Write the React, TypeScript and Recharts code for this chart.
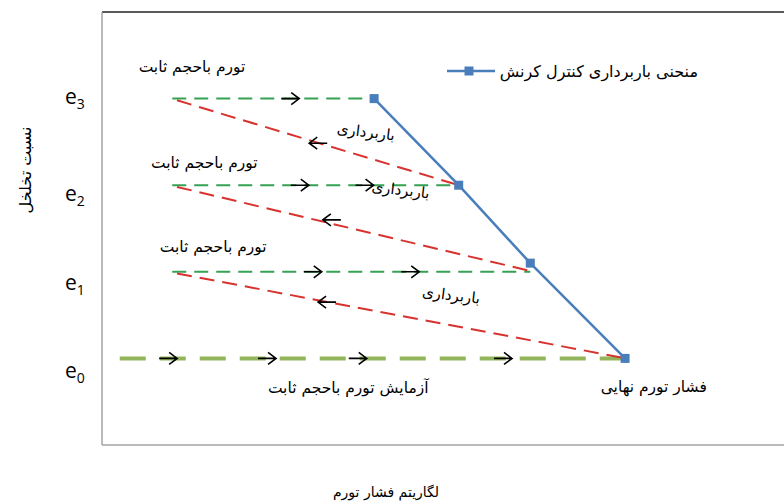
import React from 'react';
import { ComposedChart, Line, Scatter, XAxis, YAxis, ReferenceLine, Legend } from 'recharts';

// ---- data (x: log of swelling pressure, arbitrary units; y: void ratio, arbitrary units) ----
const voidRatioLevels = [20, 40, 60, 80];
const voidRatioNames = ['e0', 'e1', 'e2', 'e3'];

const curveName = 'منحنی باربرداری کنترل کرنش';
const controlCurve = [
  { x: 39.9, y: 80 },
  { x: 52.3, y: 60 },
  { x: 62.8, y: 42 },
  { x: 76.7, y: 20 },
];

const swell3 = [{ x: 10.3, y: 80 }, { x: 39.9, y: 80 }];
const swell2 = [{ x: 10.3, y: 60 }, { x: 52.3, y: 60 }];
const swell1 = [{ x: 10.3, y: 40 }, { x: 62.8, y: 40 }];
const swell0 = [{ x: 2.6, y: 20 }, { x: 76.7, y: 20 }];

const unload3 = [{ x: 11.0, y: 79.6 }, { x: 52.3, y: 60 }];
const unload2 = [{ x: 11.0, y: 59.6 }, { x: 62.8, y: 40.2 }];
const unload1 = [{ x: 11.0, y: 39.6 }, { x: 76.2, y: 20.2 }];

const forwardArrows = [
  { x: 27.6, y: 80 },
  { x: 29.0, y: 60 },
  { x: 38.5, y: 60 },
  { x: 30.9, y: 40 },
  { x: 45.2, y: 40 },
  { x: 9.7, y: 20 },
  { x: 24.2, y: 20 },
  { x: 37.5, y: 20 },
  { x: 58.8, y: 20 },
];
const backArrows = [
  { x: 31.7, y: 69.7 },
  { x: 33.7, y: 52.0 },
  { x: 33.0, y: 33.0 },
];

const swellLabels = [
  { x: 13.2, y: 87.3, text: 'تورم باحجم ثابت' },
  { x: 15.0, y: 65.1, text: 'تورم باحجم ثابت' },
  { x: 16.3, y: 45.7, text: 'تورم باحجم ثابت' },
  { x: 36.1, y: 13.2, text: 'آزمایش تورم باحجم ثابت' },
  { x: 80.9, y: 13.4, text: 'فشار تورم نهایی' },
];
const unloadLabels = [
  { x: 38.7, y: 72.3, text: 'باربرداری' },
  { x: 43.8, y: 58.9, text: 'باربرداری' },
  { x: 51.2, y: 34.6, text: 'باربرداری' },
];

const xTitle = 'لگاریتم فشار تورم';
const yTitle = 'نسبت تخلخل';

// ---- styles ----
const FONT = '"DejaVu Sans", sans-serif';
const LATIN = '"Open Sans", "DejaVu Sans", sans-serif';
const BLUE = '#4A7EBB';
const GREEN = '#35a152';
const OLIVE = '#93b55a';
const RED = '#d8322e';
const tickDy: Record<number, number> = { 20: 14, 40: 12, 60: 10, 80: -1 };

const ETick = (props: any) => {
  const { y, payload } = props;
  const idx = voidRatioLevels.indexOf(payload.value);
  const name = voidRatioNames[idx] || '';
  return (
    <text x={65} y={y + (tickDy[payload.value] || 0) + 6} fontSize={21} fontFamily={LATIN} fill="#000">
      {name.charAt(0)}
      <tspan fontSize={14} dy={5}>{name.slice(1)}</tspan>
    </text>
  );
};

const arrowShape = (dir: number) => (props: any) => {
  const { cx, cy } = props;
  const tip = cx + dir * 9;
  const tail = cx - dir * 9;
  return (
    <path
      d={`M${tail},${cy} L${tip},${cy} M${tip - dir * 8},${cy - 6} L${tip},${cy} L${tip - dir * 8},${cy + 6}`}
      stroke="#000"
      strokeWidth={1.6}
      fill="none"
    />
  );
};

const textShape = (rot: number, size: number) => (props: any) => {
  const { cx, cy, payload } = props;
  return (
    <text
      x={cx}
      y={cy}
      textAnchor="middle"
      dominantBaseline="central"
      fontSize={size}
      fontFamily={FONT}
      fill="#000"
      transform={rot ? `rotate(${rot} ${cx} ${cy})` : undefined}
    >
      {payload.text}
    </text>
  );
};

const squareDot = (props: any) => {
  const { cx, cy } = props;
  return <rect x={cx - 4.5} y={cy - 4.5} width={9} height={9} fill={BLUE} />;
};

const LegendContent = () => (
  <svg width={260} height={22} style={{ display: 'block' }}>
    <line x1={0} y1={11} x2={48} y2={11} stroke={BLUE} strokeWidth={2.5} />
    <rect x={17.5} y={6.5} width={9} height={9} fill={BLUE} />
    <text x={251} y={11} textAnchor="end" dominantBaseline="central" fontSize={16} fontFamily={FONT} fill="#000">
      {curveName}
    </text>
  </svg>
);

export default function App() {
  return (
    <div style={{ position: 'absolute', left: 0, top: 0, width: 784, height: 503, background: '#fff' }}>
      <ComposedChart width={784} height={503} margin={{ top: 12, right: 0, bottom: 0, left: 0 }}>
        <XAxis
          type="number"
          dataKey="x"
          domain={[0, 100]}
          height={58}
          tick={false}
          tickLine={false}
          axisLine={{ stroke: '#a3a3a3', strokeWidth: 1.5 }}
          label={{
            content: () => (
              <text x={386} y={492} textAnchor="middle" dominantBaseline="central" fontSize={14} fontFamily={FONT} fill="#000">
                {xTitle}
              </text>
            ),
          }}
        />
        <YAxis
          type="number"
          dataKey="y"
          domain={[0, 100]}
          width={102}
          ticks={voidRatioLevels}
          tick={<ETick />}
          tickLine={false}
          axisLine={{ stroke: '#a3a3a3', strokeWidth: 1.5 }}
          label={{
            content: () => (
              <text
                x={25}
                y={170}
                textAnchor="middle"
                dominantBaseline="central"
                fontSize={16}
                fontFamily={FONT}
                fill="#000"
                transform="rotate(-90 25 170)"
              >
                {yTitle}
              </text>
            ),
          }}
        />
        <ReferenceLine y={100} stroke="#5a5a5a" strokeWidth={2} />
        <Legend
          layout="horizontal"
          verticalAlign="middle"
          align="center"
          content={<LegendContent />}
          wrapperStyle={{ position: 'absolute', left: 447, top: 60, width: 260, height: 22 }}
        />

        <Line data={swell0} dataKey="y" stroke={OLIVE} strokeWidth={4} strokeDasharray="26 14" dot={false} activeDot={false} legendType="none" isAnimationActive={false} />
        <Line data={swell1} dataKey="y" stroke={GREEN} strokeWidth={2} strokeDasharray="14 8" dot={false} activeDot={false} legendType="none" isAnimationActive={false} />
        <Line data={swell2} dataKey="y" stroke={GREEN} strokeWidth={2} strokeDasharray="14 8" dot={false} activeDot={false} legendType="none" isAnimationActive={false} />
        <Line data={swell3} dataKey="y" stroke={GREEN} strokeWidth={2} strokeDasharray="14 8" dot={false} activeDot={false} legendType="none" isAnimationActive={false} />
        <Line data={unload1} dataKey="y" stroke={RED} strokeWidth={2} strokeDasharray="15 8" dot={false} activeDot={false} legendType="none" isAnimationActive={false} />
        <Line data={unload2} dataKey="y" stroke={RED} strokeWidth={2} strokeDasharray="15 8" dot={false} activeDot={false} legendType="none" isAnimationActive={false} />
        <Line data={unload3} dataKey="y" stroke={RED} strokeWidth={2} strokeDasharray="15 8" dot={false} activeDot={false} legendType="none" isAnimationActive={false} />
        <Line
          data={controlCurve}
          dataKey="y"
          name={curveName}
          stroke={BLUE}
          strokeWidth={2.5}
          dot={squareDot}
          activeDot={false}
          isAnimationActive={false}
        />

        <Scatter data={forwardArrows} dataKey="y" shape={arrowShape(1)} legendType="none" isAnimationActive={false} />
        <Scatter data={backArrows} dataKey="y" shape={arrowShape(-1)} legendType="none" isAnimationActive={false} />
        <Scatter data={swellLabels} dataKey="y" shape={textShape(0, 15.5)} legendType="none" isAnimationActive={false} />
        <Scatter data={unloadLabels} dataKey="y" shape={textShape(7, 15)} legendType="none" isAnimationActive={false} />
      </ComposedChart>
    </div>
  );
}
